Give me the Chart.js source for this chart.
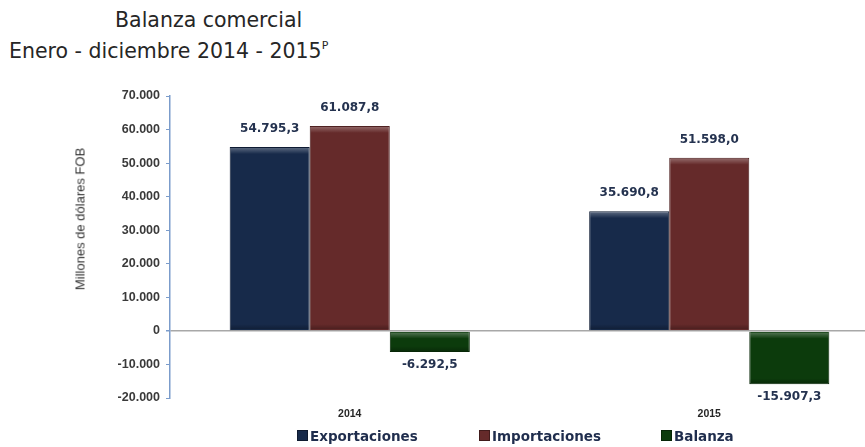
<!DOCTYPE html>
<html>
<head>
<meta charset="utf-8">
<script src="https://cdn.jsdelivr.net/npm/chart.js@4"></script>
<style>
  html, body { margin: 0; padding: 0; background: #fff; overflow: hidden; width: 865px; height: 447px; }
  #wrap { position: relative; width: 865px; height: 447px; overflow: hidden; }
  #cv { position: absolute; left: 0; top: 0; }
  .t { position: absolute; font-family: "DejaVu Sans", Verdana, sans-serif; font-size: 20.5px; color: #262626; white-space: nowrap; line-height: 24px; }
  .t sup { font-size: 11px; vertical-align: 9px; }
  #ytitle { position: absolute; left: 80px; top: 219px; transform: translate(-50%, -50%) rotate(-90deg); font-family: "Liberation Sans", Arial, sans-serif; font-size: 13px; color: #333; white-space: nowrap; }
  #legend { position: absolute; top: 428px; left: 0; width: 865px; height: 18px; font-family: "DejaVu Sans", Verdana, sans-serif; font-weight: bold; font-size: 13.5px; color: #1f2d4d; }
  #legend span.item { position: absolute; white-space: nowrap; }
  #legend i { display: inline-block; width: 9px; height: 9px; margin-right: 2px; vertical-align: 0px; border: 1px solid rgba(0,0,0,0.35); }
</style>
</head>
<body>
<div id="wrap">
  <div class="t" style="left:115px; top:8px;">Balanza comercial</div>
  <div class="t" style="left:9px; top:34px;">Enero - diciembre 2014 - 2015<sup>P</sup></div>
  <canvas id="cv" width="889" height="447" style="width:889px;height:447px"></canvas>
  <div id="ytitle">Millones de dólares FOB</div>
  <div id="legend"></div>
</div>
<script>
// ---- data ----
const categories = ["2014", "2015"];
const seriesNames = ["Exportaciones", "Importaciones", "Balanza"];
const exportaciones = [54795.3, 35690.8];
const importaciones = [61087.8, 51598.0];
const balanza = [-6292.5, -15907.3];
const yTicks = [70000, 60000, 50000, 40000, 30000, 20000, 10000, 0, -10000, -20000];

const colors = ["#172a4a", "#652a2a", "#0c3b0c"];
const edgeColors = ["#0e1b33", "#4a1c1c", "#072607"];

function fmt(v, dec) {
  const neg = v < 0;
  const s = Math.abs(v).toFixed(dec);
  let [ip, dp] = s.split(".");
  ip = ip.replace(/\B(?=(\d{3})+(?!\d))/g, ".");
  return (neg ? "-" : "") + ip + (dp !== undefined ? "," + dp : "");
}

const seriesValues = [exportaciones, importaciones, balanza];

const datasets = seriesNames.map((name, i) => ({
  label: name,
  data: seriesValues[i],
  backgroundColor: colors[i],
  borderColor: edgeColors[i],
  borderWidth: 1,
  categoryPercentage: 0.668,
  barPercentage: 1.0
}));

// bevel highlight + data labels
const bevelPlugin = {
  id: "bevel",
  afterDatasetsDraw(chart) {
    const ctx = chart.ctx;
    chart.data.datasets.forEach((ds, di) => {
      const meta = chart.getDatasetMeta(di);
      meta.data.forEach((bar) => {
        const x0 = bar.x - bar.width / 2;
        const yTop = Math.min(bar.y, bar.base), yBot = Math.max(bar.y, bar.base);
        ctx.save();
        let g = ctx.createLinearGradient(0, yTop + 1, 0, yTop + 7);
        g.addColorStop(0, "rgba(255,255,255,0.28)");
        g.addColorStop(1, "rgba(255,255,255,0)");
        ctx.fillStyle = g;
        ctx.fillRect(x0 + 1, yTop + 1, bar.width - 2, 6);
        g = ctx.createLinearGradient(0, yBot - 6, 0, yBot - 1);
        g.addColorStop(0, "rgba(0,0,0,0)");
        g.addColorStop(1, "rgba(0,0,0,0.25)");
        ctx.fillStyle = g;
        ctx.fillRect(x0 + 1, yBot - 6, bar.width - 2, 5);
        ctx.restore();
      });
    });
  },
  afterDraw(chart) {
    const ctx = chart.ctx;
    ctx.save();
    ctx.font = "bold 12px 'DejaVu Sans', Verdana, sans-serif";
    ctx.fillStyle = "#24324f";
    ctx.textAlign = "center";
    ctx.textBaseline = "middle";
    chart.data.datasets.forEach((ds, di) => {
      const meta = chart.getDatasetMeta(di);
      meta.data.forEach((bar, j) => {
        const v = ds.data[j];
        const y = v >= 0 ? bar.y - 18 : bar.y + 13;
        ctx.fillText(fmt(v, 1), bar.x, y);
      });
    });
    ctx.restore();
  }
};

const chart = new Chart(document.getElementById("cv"), {
  type: "bar",
  data: { labels: categories, datasets },
  options: {
    responsive: false,
    animation: false,
    events: [],
    layout: { padding: { top: 96, right: 0, bottom: 24, left: 0 } },
    plugins: {
      legend: { display: false },
      tooltip: { enabled: false },
      title: { display: false }
    },
    scales: {
      x: {
        grid: { display: false, drawTicks: false },
        border: { display: false },
        ticks: {
          padding: 10,
          color: "#262626",
          font: { family: "'Liberation Sans', Arial, sans-serif", size: 10.5, weight: "bold" }
        },
        afterFit(scale) { scale.height = 25; }
      },
      y: {
        min: -20000,
        max: 70000,
        afterBuildTicks(scale) { scale.ticks = yTicks.map(v => ({ value: v })); },
        ticks: {
          padding: 6,
          color: "#3a3a3a",
          font: { family: "'Liberation Sans', Arial, sans-serif", size: 12.5, weight: "bold" },
          callback: (v) => fmt(v, 0)
        },
        grid: {
          drawOnChartArea: true,
          tickLength: 4,
          color: (c) => (c.tick && c.tick.value === 0 ? "#a8a8a8" : "rgba(0,0,0,0)"),
          lineWidth: (c) => (c.tick && c.tick.value === 0 ? 1.5 : 1),
          tickColor: "#7b9ccb"
        },
        border: { display: true, color: "#7b9ccb", width: 1.5 },
        title: { display: false },
        afterFit(scale) { scale.width = 170; }
      }
    }
  },
  plugins: [bevelPlugin]
});

// HTML legend built from dataset names/colors
const legendPos = [297, 479, 661];
const lg = document.getElementById("legend");
seriesNames.forEach((n, i) => {
  const s = document.createElement("span");
  s.className = "item";
  s.style.left = legendPos[i] + "px";
  s.innerHTML = '<i style="background:' + colors[i] + '"></i>' + n;
  lg.appendChild(s);
});
</script>
</body>
</html>
